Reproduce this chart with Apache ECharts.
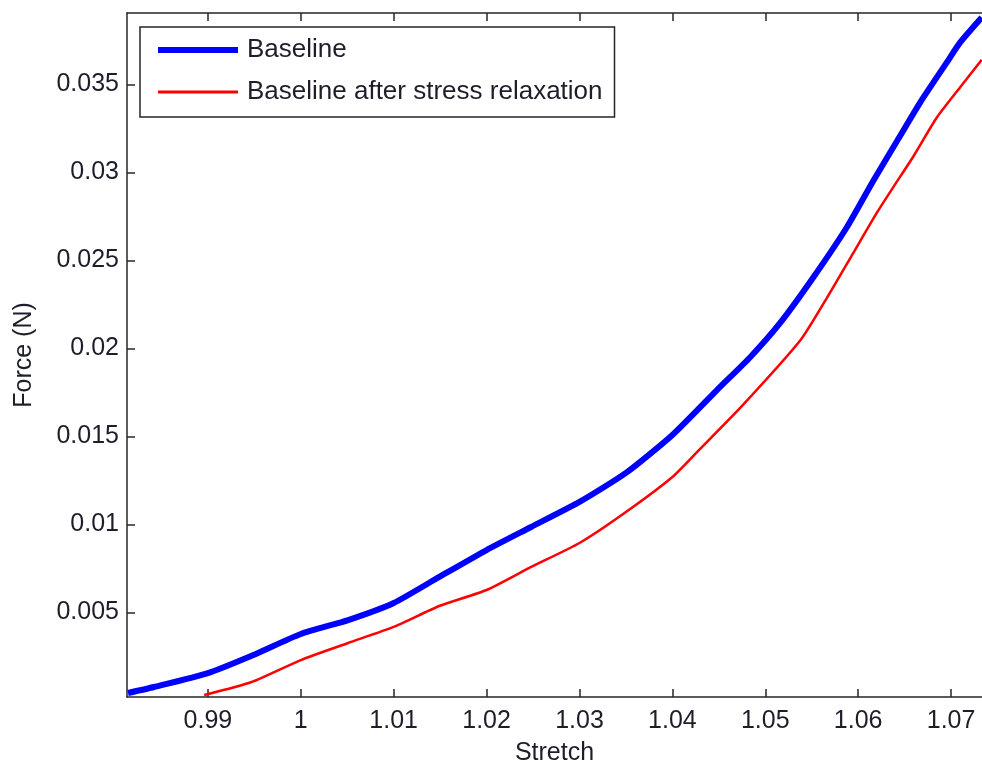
<!DOCTYPE html>
<html>
<head>
<meta charset="utf-8">
<script src="https://cdn.jsdelivr.net/npm/echarts@6/dist/echarts.min.js"></script>
<style>
html,body{margin:0;padding:0;background:#fff;}
#chart{width:982px;height:765px;}
</style>
</head>
<body>
<div id="chart"></div>
<script>
const seriesNames = ['Baseline', 'Baseline after stress relaxation'];

const stretchBaseline = [0.9814, 0.9842, 0.9900, 0.9949, 1.0000, 1.0051, 1.0100, 1.0149, 1.0200, 1.0248, 1.0300, 1.0350, 1.0400, 1.0448, 1.0484, 1.0516, 1.0552, 1.0588, 1.0616, 1.0642, 1.0667, 1.0696, 1.0710, 1.0733];
const forceBaseline   = [0.00043, 0.00077, 0.00156, 0.00259, 0.00378, 0.00457, 0.00554, 0.00702, 0.00855, 0.00986, 0.01128, 0.01293, 0.01509, 0.01764, 0.01952, 0.02145, 0.02406, 0.02690, 0.02950, 0.03180, 0.03400, 0.03630, 0.03740, 0.03880];

const stretchRelaxed = [0.9896, 0.9947, 1.0000, 1.0051, 1.0100, 1.0149, 1.0200, 1.0248, 1.0300, 1.0350, 1.0400, 1.0428, 1.0474, 1.0538, 1.0567, 1.0595, 1.0620, 1.0638, 1.0659, 1.0685, 1.0710, 1.0733];
const forceRelaxed   = [0.00031, 0.00105, 0.00230, 0.00327, 0.00418, 0.00537, 0.00628, 0.00759, 0.00895, 0.01071, 0.01270, 0.01420, 0.01668, 0.02048, 0.02293, 0.02545, 0.02770, 0.02918, 0.03088, 0.03315, 0.03486, 0.03640];

const xTicks = [0.99, 1.00, 1.01, 1.02, 1.03, 1.04, 1.05, 1.06, 1.07];
const yTicks = [0.005, 0.010, 0.015, 0.020, 0.025, 0.030, 0.035];

const xMin = 0.98129, xMax = 1.07333;
const yMin = 0.0002, yMax = 0.03906;

const pairs = (xs, ys) => xs.map((x, i) => [x, ys[i]]);

const FONT = '"Liberation Sans", Arial, sans-serif';
const TXT = '#1e1e2a';
const AX = '#262626';

const chart = echarts.init(document.getElementById('chart'), null, {renderer: 'canvas'});

const axisLineCfg = {show: true, onZero: false, lineStyle: {color: AX, width: 1.5}};
const tickCfg = (vals) => ({show: true, inside: true, length: 8, customValues: vals, lineStyle: {color: AX, width: 1.5}});

chart.setOption({
  animation: false,
  backgroundColor: '#fff',
  grid: {left: 127, right: 0, top: 13, bottom: 68, containLabel: false, outerBoundsMode: 'none'},
  legend: {
    orient: 'vertical',
    left: 140, top: 27,
    data: [
      {name: seriesNames[0], lineStyle: {width: 6, color: '#0000ff'}},
      {name: seriesNames[1], lineStyle: {width: 3, color: '#ff0000'}}
    ],
    itemWidth: 80, itemHeight: 14, itemGap: 12,
    itemStyle: {opacity: 0},
    padding: [8, 12, 10, 15],
    borderColor: AX, borderWidth: 1.5,
    backgroundColor: '#fff',
    textStyle: {fontFamily: FONT, fontSize: 26, lineHeight: 26, color: TXT, padding: [4, 0, 0, 4]}
  },
  xAxis: [
    {
      type: 'value', position: 'bottom', min: xMin, max: xMax,
      name: 'Stretch', nameLocation: 'middle', nameGap: 44,
      nameTextStyle: {fontFamily: FONT, fontSize: 25, color: TXT},
      axisLine: axisLineCfg, axisTick: tickCfg(xTicks), splitLine: {show: false},
      axisLabel: {customValues: xTicks, fontFamily: FONT, fontSize: 25, color: TXT, margin: 12,
        formatter: v => String(+v.toFixed(2))}
    },
    {
      type: 'value', position: 'top', min: xMin, max: xMax,
      axisLine: axisLineCfg, axisTick: tickCfg(xTicks), splitLine: {show: false},
      axisLabel: {show: false}
    }
  ],
  yAxis: [
    {
      type: 'value', position: 'left', min: yMin, max: yMax,
      name: 'Force (N)', nameLocation: 'middle', nameGap: 90,
      nameTextStyle: {fontFamily: FONT, fontSize: 25, color: TXT},
      axisLine: axisLineCfg, axisTick: tickCfg(yTicks), splitLine: {show: false},
      axisLabel: {customValues: yTicks, fontFamily: FONT, fontSize: 25, color: TXT, margin: 8,
        formatter: v => String(+v.toFixed(3))}
    }
  ],
  series: [
    {
      name: seriesNames[0], type: 'line', xAxisIndex: 0, yAxisIndex: 0,
      data: pairs(stretchBaseline, forceBaseline),
      symbol: 'none', smooth: 0.2,
      lineStyle: {color: '#0000ff', width: 6},
      itemStyle: {color: '#0000ff'},
      clip: true
    },
    {
      name: seriesNames[1], type: 'line', xAxisIndex: 0, yAxisIndex: 0,
      data: pairs(stretchRelaxed, forceRelaxed),
      symbol: 'none', smooth: 0.2,
      lineStyle: {color: '#ff0000', width: 2.5},
      itemStyle: {color: '#ff0000'},
      clip: true
    }
  ]
});
</script>
</body>
</html>
